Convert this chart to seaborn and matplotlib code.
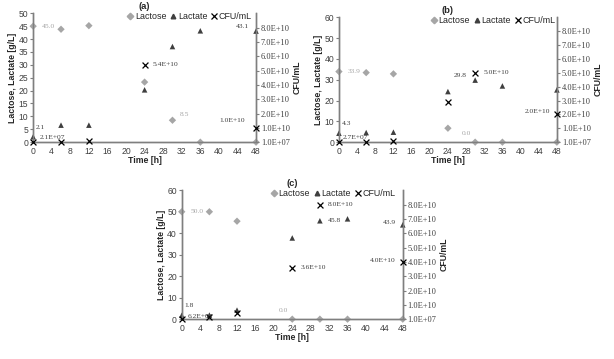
import numpy as np
import matplotlib.pyplot as plt
import seaborn as sns

sns.set_style("white")
plt.rcParams['font.family'] = ['Liberation Sans', 'DejaVu Sans']

# ==========================================================
# Data
# ==========================================================
time = [0, 6, 12, 24, 30, 36, 48]

lactose_a = [45.0, 43.8, 45.2, 23.3, 8.5, 0.0, 0.0]
lactate_a = [2.1, 6.6, 6.6, 20.3, 37.1, 43.2, 43.1]
cfu_time_a = [0, 6, 12, 24, 48]
cfu_a = [2.1e7, 8e7, 1.1e9, 5.4e10, 1.0e10]

lactose_b = [33.9, 33.4, 32.8, 6.7, 0.0, 0.0, 0.0]
lactate_b = [4.3, 4.6, 4.8, 24.3, 29.8, 27.0, 25.1]
cfu_time_b = [0, 6, 12, 24, 30, 48]
cfu_b = [2.7e7, 1e8, 7e8, 2.9e10, 5.0e10, 2.0e10]

lactose_c = [50.0, 50.0, 45.6, 0.0, 0.0, 0.0, 0.0]
lactate_c = [1.8, 1.9, 4.2, 37.8, 45.8, 46.7, 43.9]
cfu_time_c = [0, 6, 12, 24, 30, 48]
cfu_c = [6.2e7, 1.2e9, 4.5e9, 3.6e10, 8.0e10, 4.0e10]

x_ticks = list(range(0, 49, 4))
cfu_ticks = [1e7 + k * 1e10 for k in range(9)]   # 1.0E+07 ... 8.0E+10

C_LACTOSE = '#a6a6a6'
C_LACTATE = '#3f3f3f'
C_CFU = '#000000'
C_AXIS = '#7f7f7f'
SERIF = ['Liberation Serif', 'DejaVu Serif']

fig = plt.figure(figsize=(6.14, 3.59), dpi=100)


def panel(rect, title, ymax, ystep, lactose, lactate, cfu_t, cfu, labels, leg_x):
    ax = fig.add_axes(rect)
    ax2 = ax.twinx()

    sns.scatterplot(x=time, y=lactose, ax=ax, marker='D', color=C_LACTOSE,
                    s=14, edgecolor='none', clip_on=False, zorder=3)
    sns.scatterplot(x=time, y=lactate, ax=ax, marker='^', color=C_LACTATE,
                    s=16, edgecolor='none', clip_on=False, zorder=3)
    sns.scatterplot(x=cfu_t, y=cfu, ax=ax2, marker='x', color=C_CFU,
                    s=18, linewidth=0.9, clip_on=False, zorder=3)

    ax.set_xlim(0, 48)
    ax.set_ylim(0, ymax)
    ax2.set_ylim(1e7, 9e10 + 1e7)
    ax.set_xticks(x_ticks)
    ax.set_yticks(np.arange(0, ymax + 1, ystep))
    ax2.set_yticks(cfu_ticks)
    ax2.set_yticklabels([f"{v:.1E}" for v in cfu_ticks], family=SERIF)

    for a in (ax, ax2):
        a.spines['top'].set_visible(False)
        for s in ('left', 'right', 'bottom'):
            a.spines[s].set_color(C_AXIS)
            a.spines[s].set_linewidth(1.0)
        a.tick_params(axis='both', labelsize=6.2, colors='#404040', length=2,
                      width=0.8, pad=1.5, direction='out')
    ax.tick_params(axis='both', color=C_AXIS)
    ax2.tick_params(axis='y', color=C_AXIS, labelsize=6.0)
    ax.grid(False)
    ax2.grid(False)

    ax.set_xlabel('Time [h]', fontsize=6.3, fontweight='bold', labelpad=0)
    ax.set_ylabel('Lactose, Lactate [g/L]', fontsize=6.3, fontweight='bold', labelpad=1)
    ax2.set_ylabel('CFU/mL', fontsize=6.3, fontweight='bold', labelpad=2)
    ax.set_title(title, fontsize=6.8, fontweight='bold', pad=3)

    # data labels
    for xv, yv, txt, dx, dy, col, which in labels:
        target = ax2 if which == 'r' else ax
        target.annotate(txt, (xv, yv), xytext=(dx, dy), textcoords='offset points',
                        fontsize=5.4, color=col, family=SERIF,
                        ha='left' if dx >= 0 else 'right', va='center')

    h = [plt.Line2D([], [], marker='D', ls='', color=C_LACTOSE, ms=3.3),
         plt.Line2D([], [], marker='^', ls='', color=C_LACTATE, ms=3.3),
         plt.Line2D([], [], marker='x', ls='', color=C_CFU, ms=4, mew=0.9)]
    ax.legend(h, ['Lactose', 'Lactate', 'CFU/mL'], loc='upper left',
              bbox_to_anchor=(leg_x, 1.04), ncol=3, frameon=False, fontsize=6.4,
              handletextpad=0.0, columnspacing=0.3, handlelength=1.0,
              borderaxespad=0)
    if ax2.get_legend() is not None:
        ax2.get_legend().remove()
    return ax, ax2


labels_a = [
    (0, lactose_a[0], f"{lactose_a[0]:.1f}", 6, 0, C_LACTOSE, 'l'),
    (0, lactate_a[0], f"{lactate_a[0]:.1f}", 2, 7, C_LACTATE, 'l'),
    (0, cfu_a[0], f"{cfu_a[0]:.1E}", 5, 3, C_LACTATE, 'r'),
    (24, cfu_a[3], f"{cfu_a[3]:.1E}", 6, 0, C_LACTATE, 'r'),
    (30, lactose_a[4], f"{lactose_a[4]:.1f}", 5, 4, C_LACTOSE, 'l'),
    (48, lactate_a[6], f"{lactate_a[6]:.1f}", -5, 3, C_LACTATE, 'l'),
    (48, cfu_a[4], f"{cfu_a[4]:.1E}", -8, 5, C_LACTATE, 'r'),
]
labels_b = [
    (0, lactose_b[0], f"{lactose_b[0]:.1f}", 6, 0, C_LACTOSE, 'l'),
    (0, lactate_b[0], f"{lactate_b[0]:.1f}", 2, 7, C_LACTATE, 'l'),
    (0, cfu_b[0], f"{cfu_b[0]:.1E}", 3, 3, C_LACTATE, 'r'),
    (30, lactate_b[4], f"{lactate_b[4]:.1f}", -6, 3, C_LACTATE, 'l'),
    (30, cfu_b[4], f"{cfu_b[4]:.1E}", 6, 0, C_LACTATE, 'r'),
    (30, lactose_b[4], f"{lactose_b[4]:.1f}", -3, 6, C_LACTOSE, 'l'),
    (48, cfu_b[5], f"{cfu_b[5]:.1E}", -5, 2, C_LACTATE, 'r'),
]
labels_c = [
    (0, lactose_c[0], f"{lactose_c[0]:.1f}", 6, 0, C_LACTOSE, 'l'),
    (0, lactate_c[0], f"{lactate_c[0]:.1f}", 2, 7, C_LACTATE, 'l'),
    (0, cfu_c[0], f"{cfu_c[0]:.1E}", 4, 2, C_LACTATE, 'r'),
    (24, lactose_c[3], f"{lactose_c[3]:.1f}", -3, 6, C_LACTOSE, 'l'),
    (24, cfu_c[3], f"{cfu_c[3]:.1E}", 6, 0, C_LACTATE, 'r'),
    (30, cfu_c[4], f"{cfu_c[4]:.1E}", 6, 0, C_LACTATE, 'r'),
    (30, lactate_c[4], f"{lactate_c[4]:.1f}", 6, 0, C_LACTATE, 'l'),
    (48, lactate_c[6], f"{lactate_c[6]:.1f}", -5, 2, C_LACTATE, 'l'),
    (48, cfu_c[5], f"{cfu_c[5]:.1E}", -5, 1, C_LACTATE, 'r'),
]

panel([0.054, 0.604, 0.363, 0.359], '(a)', 50, 5,
      lactose_a, lactate_a, cfu_time_a, cfu_a, labels_a, 0.40)
panel([0.552, 0.604, 0.355, 0.348], '(b)', 60, 10,
      lactose_b, lactate_b, cfu_time_b, cfu_b, labels_b, 0.40)
panel([0.296, 0.111, 0.360, 0.359], '(c)', 60, 10,
      lactose_c, lactate_c, cfu_time_c, cfu_c, labels_c, 0.38)

fig.savefig('out.png', dpi=100)
